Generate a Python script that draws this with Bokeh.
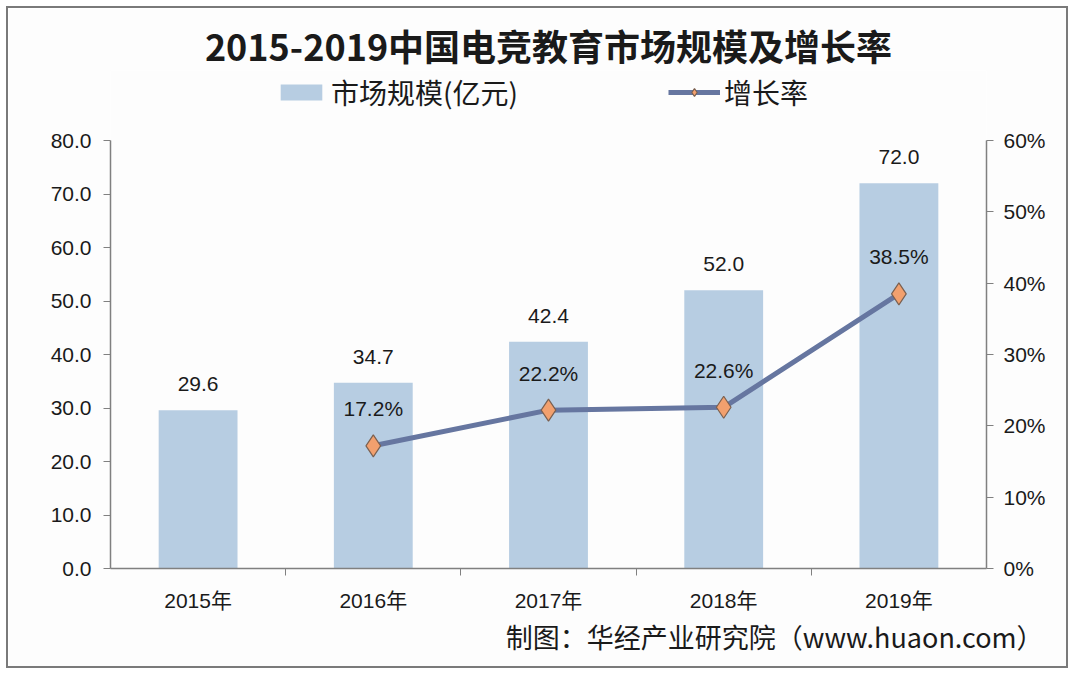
from bokeh.plotting import figure
from bokeh.models import (ColumnDataSource, Range1d, LinearAxis, FixedTicker, LabelSet,
                          Legend, LegendItem, Title, CustomJSTickFormatter)
from bokeh.core.properties import value
from bokeh.embed import file_html
from bokeh.resources import INLINE

years = ["2015年", "2016年", "2017年", "2018年", "2019年"]
market = [29.6, 34.7, 42.4, 52.0, 72.0]
growth_years_idx = [1, 2, 3, 4]
growth = [17.2, 22.2, 22.6, 38.5]
left_ticks = [0, 10, 20, 30, 40, 50, 60, 70, 80]
right_ticks = [0, 10, 20, 30, 40, 50, 60]

xs = list(range(len(years)))
bar_src = ColumnDataSource(dict(x=xs, y=market, lbl=["%.1f" % v for v in market]))
line_src = ColumnDataSource(dict(x=growth_years_idx, y=growth, lbl=["%.1f%%" % v for v in growth]))

FONT = "Liberation Sans"
CJK = "Noto Sans CJK SC"
MIXED = "Liberation Sans, Noto Sans CJK SC"

# layout geometry (pixels): axis area spans 428px; frame extends above it for the legend
AXIS_PX = 428
EXTRA_PX = 70
left_max = left_ticks[-1] * (AXIS_PX + EXTRA_PX) / AXIS_PX
right_max = right_ticks[-1] * (AXIS_PX + EXTRA_PX) / AXIS_PX

p = figure(width=1058, height=658, output_backend="svg", toolbar_location=None,
           x_range=Range1d(-0.5, len(years) - 0.5), y_range=Range1d(0, left_max),
           min_border_left=102, min_border_right=84, min_border_top=62, min_border_bottom=102)
p.styles = {"border": "2px solid #7a7a7a", "margin": "6px", "box-sizing": "content-box"}
p.background_fill_color = "#fdfdfd"
p.border_fill_color = "#fdfdfd"
p.outline_line_color = None
p.grid.visible = False

p.extra_y_ranges = {"pct": Range1d(0, right_max)}

bars = p.vbar(x="x", top="y", width=0.45, source=bar_src, fill_color="#b7cde2", line_color=None)
ln = p.line(x="x", y="y", source=line_src, y_range_name="pct", line_color="#6676a0", line_width=5)
mk = p.scatter(x="x", y="y", source=line_src, y_range_name="pct", marker="diamond", size=22,
               fill_color="#f2a06e", line_color="#7a6050", line_width=1.2)

p.add_layout(LabelSet(x="x", y="y", text="lbl", source=bar_src, y_offset=26, text_align="center",
                      text_baseline="middle", text_font=value(FONT), text_font_size="21px",
                      text_color="#1a1a1a"))
p.add_layout(LabelSet(x="x", y="y", text="lbl", source=line_src, y_range_name="pct", y_offset=37,
                      text_align="center", text_baseline="middle", text_font=value(FONT),
                      text_font_size="21px", text_color="#1a1a1a"))

# x axis
xa = p.xaxis[0]
xa.ticker = FixedTicker(ticks=xs, minor_ticks=[i + 0.5 for i in xs[:-1]])
xa.major_label_overrides = {i: years[i] for i in xs}
xa.major_tick_out = 0
xa.major_tick_in = 0
xa.minor_tick_out = 7
xa.minor_tick_in = 0
xa.minor_tick_line_color = "#808080"
xa.axis_line_color = "#808080"
xa.axis_line_width = 1.5
xa.major_label_text_font = MIXED
xa.major_label_text_font_size = "21px"
xa.major_label_text_color = "#1a1a1a"
xa.major_label_standoff = 13

ya = p.yaxis[0]
ya.ticker = FixedTicker(ticks=left_ticks, minor_ticks=[])
ya.bounds = (left_ticks[0], left_ticks[-1])
ya.formatter = CustomJSTickFormatter(code="return tick.toFixed(1);")
ya.major_tick_out = 7
ya.major_tick_in = 0
ya.axis_line_color = "#808080"
ya.axis_line_width = 1.5
ya.major_tick_line_color = "#808080"
ya.major_label_text_font = FONT
ya.major_label_text_font_size = "21px"
ya.major_label_text_color = "#1a1a1a"
ya.major_label_standoff = 12

ra = LinearAxis(y_range_name="pct", ticker=FixedTicker(ticks=right_ticks, minor_ticks=[]),
                formatter=CustomJSTickFormatter(code="return tick.toFixed(0) + '%';"),
                bounds=(right_ticks[0], right_ticks[-1]))
ra.major_tick_out = 7
ra.major_tick_in = 0
ra.axis_line_color = "#808080"
ra.axis_line_width = 1.5
ra.major_tick_line_color = "#808080"
ra.major_label_text_font = FONT
ra.major_label_text_font_size = "21px"
ra.major_label_text_color = "#1a1a1a"
ra.major_label_standoff = 10
p.add_layout(ra, "right")

# footer
foot = Title(text="制图：华经产业研究院（www.huaon.com）", align="right", text_font=CJK,
             text_font_size="27px", text_font_style="normal", text_color="#1a1a1a",
             offset=-57, standoff=0)
p.add_layout(foot, "below")

# legend inside the (extended) frame, above the axis area
legend = Legend(items=[LegendItem(label="市场规模(亿元)", renderers=[bars]),
                       LegendItem(label="增长率", renderers=[ln, mk])],
                orientation="horizontal", location=(165, 456), spacing=150,
                label_text_font=CJK, label_text_font_size="28px", label_text_color="#1a1a1a",
                glyph_width=52, glyph_height=20, label_standoff=4,
                border_line_color=None, background_fill_alpha=0, margin=0, padding=0)
p.add_layout(legend)

title = Title(text="2015-2019中国电竞教育市场规模及增长率", align="center", text_font=CJK,
              text_font_size="36px", text_font_style="bold", text_color="#1a1a1a", standoff=0)
p.add_layout(title, "above")

open("out.html", "w").write(file_html(p, INLINE))
